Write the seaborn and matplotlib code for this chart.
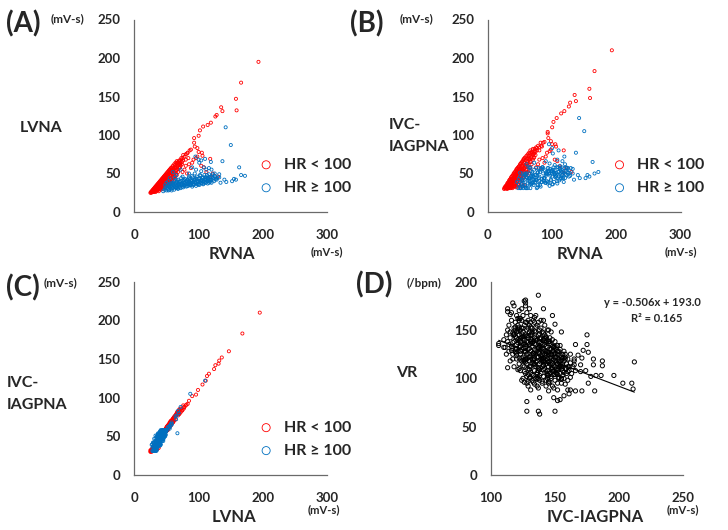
import numpy as np
import pandas as pd
import matplotlib
matplotlib.use('Agg')
from matplotlib import pyplot as plt
import seaborn as sns

sns.set_style('white')
plt.rcParams['font.family'] = ['Lato', 'DejaVu Sans']
plt.rcParams['font.weight'] = 'bold'

# ---- panels A-C : one row per beat (RVNA, LVNA, IVC-IAGPNA), split by HR
red_rvna = [25, 26, 26, 27, 27, 28, 28, 29, 29, 30, 30, 30, 31, 31, 31, 32, 32, 32, 33, 33, 33, 34, 34, 34,
            35, 35, 35, 35, 36, 36, 36, 37, 37, 37, 38, 38, 38, 39, 39, 39, 40, 40, 40, 40, 41, 41, 41,
            42, 42, 42, 42, 43, 43, 43, 44, 44, 44, 45, 45, 45, 45, 46, 46, 46, 47, 47, 47, 48, 48, 48,
            49, 49, 49, 50, 50, 50, 50, 51, 51, 52, 52, 52, 53, 53, 54, 54, 55, 55, 55, 56, 56, 57, 57,
            58, 58, 59, 60, 60, 61, 62, 62, 63, 64, 65, 66, 67, 68, 70, 69, 72, 71, 64, 66, 68, 55, 57, 50, 44,
            27.5, 28.5, 29.5, 30.5, 31.5, 32.5, 33.5, 34.5, 35.5, 36.5, 37.5, 38.5, 39.5, 40.5, 41.5, 42.5,
            43.5, 44.5, 45.5, 46.5, 47.5, 48.5, 49.5, 50.5, 51.5, 52.5, 53.5, 54.5, 55.5, 56.5, 57.5, 58.5,
            59.5, 60.5, 61.5, 63.5, 64.5, 65.5, 66.5, 67.5, 69.5, 70.5, 73, 74, 75,
            33, 36, 39, 42, 45, 48, 51, 54, 57, 60, 63, 38, 41, 44, 47, 53, 56, 59, 62, 65, 67, 70, 72, 74,
            30, 34, 37, 40, 43, 46, 49, 52, 55, 58, 61, 64, 68, 71, 76, 78, 80, 84, 82,
            193, 166, 158, 159, 135, 137, 128, 126, 119, 114, 107, 102, 100, 93, 93, 94, 98, 86, 88, 83,
            80, 76, 73, 100, 98, 96, 90, 85, 88, 80, 78, 75, 82, 108, 112, 122, 130, 118, 104, 92, 106, 118, 105]
red_lvna = [25, 26, 25, 27, 26, 28, 26, 27, 29, 28, 30, 26, 27, 31, 29, 28, 32, 30, 27, 33, 31, 29, 34, 32,
            28, 35, 33, 30, 30, 36, 34, 29, 37, 33, 31, 38, 35, 32, 39, 36, 30, 40, 37, 34, 33, 41, 38,
            31, 42, 39, 35, 36, 43, 40, 34, 44, 41, 32, 45, 38, 42, 35, 46, 43, 37, 47, 40, 33, 48, 44,
            38, 49, 45, 36, 50, 46, 41, 40, 51, 34, 52, 47, 42, 53, 45, 54, 38, 55, 50, 44, 56, 48, 57,
            41, 58, 52, 60, 46, 55, 62, 50, 58, 64, 54, 66, 60, 65, 67, 62, 63, 58, 43, 48, 52, 36, 38, 35, 33,
            25.5, 27, 26, 29, 28, 31, 29, 33, 31, 35, 32, 36, 34, 38, 35, 40,
            37, 42, 39, 44, 41, 46, 42, 48, 44, 49, 46, 51, 47, 53, 50, 55,
            49, 57, 52, 61, 57, 63, 58, 64, 66, 61, 68, 65, 70,
            26, 28, 30, 33, 35, 37, 38, 41, 43, 44, 47, 27, 29, 30, 32, 37, 40, 42, 45, 50, 55, 57, 60, 62,
            27, 30, 34, 36, 38, 40, 43, 45, 48, 51, 54, 59, 61, 64, 67, 72, 68, 70, 76,
            195, 168, 147, 132, 136, 131, 126, 124, 116, 113, 111, 106, 99, 96, 90, 85, 83, 80, 81, 77,
            75, 74, 70, 78, 72, 70, 64, 62, 57, 60, 55, 52, 50, 58, 52, 50, 46, 45, 60, 68, 73, 69, 77]
red_ivc = [30, 31, 32, 33, 31, 34, 32, 31, 35, 33, 37, 31, 32, 38, 35, 31, 39, 36, 32, 41, 37, 33, 42, 38,
           31, 43, 39, 35, 33, 45, 40, 32, 46, 39, 35, 47, 42, 36, 48, 43, 33, 50, 44, 40, 37, 51, 45,
           34, 52, 47, 41, 42, 53, 48, 38, 55, 49, 34, 56, 45, 50, 40, 57, 52, 43, 58, 48, 35, 59, 53,
           44, 60, 54, 41, 62, 55, 49, 47, 63, 36, 64, 56, 50, 65, 54, 66, 44, 68, 60, 52, 69, 57, 70,
           48, 71, 62, 73, 55, 66, 75, 60, 70, 77, 65, 80, 72, 78, 82, 75, 76, 70, 50, 57, 62, 34, 35, 33, 32,
           30.5, 32, 31, 35, 33, 37, 34, 40, 36, 42, 37, 44, 40, 46, 41, 49,
           44, 51, 46, 54, 49, 56, 50, 58, 53, 60, 55, 62, 57, 64, 60, 67,
           59, 69, 63, 73, 69, 76, 70, 77, 80, 74, 82, 78, 84,
           31, 32, 34, 37, 39, 42, 43, 47, 49, 51, 54, 31, 33, 35, 36, 42, 45, 48, 52, 58, 65, 68, 71, 74,
           30, 33, 38, 40, 43, 45, 48, 51, 54, 58, 62, 68, 71, 76, 80, 86, 80, 85, 90,
           210, 183, 160, 148, 152, 144, 142, 137, 131, 128, 122, 117, 110, 104, 102, 96, 92, 90, 91, 86,
           84, 83, 79, 88, 81, 79, 72, 70, 64, 68, 62, 58, 57, 66, 59, 57, 52, 51, 68, 77, 85, 80, 88]

blue_rvna = [45, 47, 48, 50, 50, 52, 53, 54, 55, 56, 57, 58, 59, 60, 61, 62, 62, 63, 64, 65, 66, 67, 68, 68,
             69, 70, 71, 72, 73, 74, 75, 76, 77, 78, 79, 80, 81, 82, 83, 84, 85, 86, 87, 88, 89, 90, 91, 92,
             93, 94, 95, 96, 97, 98, 99, 100, 101, 102, 103, 104, 105, 106, 107, 108, 109, 110, 111, 112,
             113, 114, 115, 116, 117, 118, 119, 120, 122, 124, 125, 127, 63, 75, 58, 66, 85, 95, 105, 115,
             70, 80, 90, 100, 110, 120, 65, 76, 88, 98, 60, 72, 85, 65, 55, 50, 48, 53,
             51, 53, 55, 57, 59, 60, 62, 64, 65, 67, 68, 70, 71, 72, 74, 75, 77, 78, 79, 81, 82, 83, 84, 86,
             87, 88, 89, 91, 92, 93, 94, 96, 97, 99, 100, 101, 103, 104, 106, 107, 108, 110, 111, 112, 114,
             116, 117, 118, 121, 123, 126, 129, 61, 66, 73, 58, 54, 69, 77, 85, 90, 102, 113, 122,
             142, 150, 137, 163, 172, 155, 158, 143, 132, 128, 110, 100, 101, 116, 108, 90, 96, 95, 132,
             140, 120, 125, 94, 104, 166, 152, 134, 119, 112, 104]
blue_lvna = [27, 29, 31, 28, 33, 30, 35, 29, 32, 36, 30, 34, 38, 31, 35, 29, 40, 33, 37, 31, 39, 34, 30, 42,
             36, 33, 39, 31, 37, 35, 41, 32, 38, 34, 43, 36, 33, 40, 37, 34, 44, 39, 35, 41, 37, 33, 45, 39,
             36, 42, 38, 34, 46, 40, 37, 43, 35, 39, 47, 41, 37, 44, 36, 40, 48, 42, 38, 45,
             40, 37, 43, 49, 41, 39, 46, 42, 44, 40, 47, 43, 45, 46, 28, 32, 40, 44, 42, 40,
             37, 40, 41, 40, 45, 38, 35, 36, 38, 36, 52, 55, 50, 48, 44, 38, 35, 40,
             31, 28, 34, 33, 31, 36, 34, 32, 38, 31, 36, 35, 32, 40, 37, 33, 35, 41, 38, 36, 34, 42, 39, 36,
             43, 35, 40, 38, 35, 42, 39, 37, 43, 39, 36, 44, 41, 38, 40, 45, 37, 39, 43, 41, 44,
             38, 45, 42, 46, 42, 45, 44, 38, 41, 44, 37, 33, 39, 42, 46, 47, 48, 48, 49,
             110, 87, 66, 58, 47, 43, 42, 39, 49, 42, 69, 68, 64, 57, 58, 58, 55, 72, 45,
             42, 55, 50, 50, 53, 48, 40, 38, 65, 55, 67]
blue_ivc = [39, 31, 36, 31, 51, 33, 37, 42, 31, 48, 42, 33, 50, 31, 50, 37, 41, 44, 44, 36, 53, 37, 38, 46,
            50, 38, 45, 42, 39, 42, 57, 31, 47, 35, 57, 40, 35, 56, 39, 39, 58, 41, 44, 40, 54, 38, 52, 50,
            37, 52, 53, 34, 56, 42, 53, 50, 36, 52, 51, 49, 51, 47, 44, 40, 58, 49, 41, 57,
            43, 44, 58, 52, 50, 39, 57, 49, 48, 52, 51, 51, 58, 48, 35, 31, 56, 50, 45, 52,
            43, 46, 47, 46, 52, 44, 40, 41, 44, 41, 62, 64, 58, 57, 50, 46, 43, 42,
            31, 40, 38, 47, 31, 45, 31, 42, 44, 47, 36, 47, 35, 55, 38, 42, 32, 52, 44, 52, 33, 55, 43, 50,
            44, 44, 38, 49, 40, 57, 39, 50, 47, 54, 36, 55, 39, 49, 46, 58, 37, 52, 47, 56, 46,
            48, 44, 53, 53, 57, 46, 57, 45, 58, 48, 49, 33, 52, 51, 58, 50, 58, 54, 58,
            122, 105, 77, 65, 52, 48, 46, 44, 56, 47, 80, 83, 76, 66, 68, 66, 63, 88, 50,
            48, 62, 57, 57, 61, 50, 44, 42, 72, 60, 54]

# ---- panel D : IVC-IAGPNA vs ventricular rate
vr_ivc = [110, 111, 112, 112, 113, 113, 114, 114, 115, 115, 116, 116, 117, 117, 118, 118, 118, 119, 119, 119,
          120, 120, 120, 120,
          121, 121, 121, 122, 122, 122, 122, 123, 123, 123, 123, 124, 124, 124, 124, 125, 125, 125, 125, 125,
          126, 126, 126, 126, 127, 127, 127, 127, 127, 128, 128, 128, 128, 128, 129, 129, 129, 129,
          130, 130, 130, 130, 130, 130,
          131, 131, 131, 131, 132, 132, 132, 132, 132, 133, 133, 133, 133, 134, 134, 134, 134, 134,
          135, 135, 135, 135, 135, 136, 136, 136, 136, 136, 137, 137, 137, 137, 138, 138, 138, 138, 138,
          139, 139, 139, 139, 140, 140, 140, 140, 140,
          141, 141, 141, 141, 141, 142, 142, 142, 142, 143, 143, 143, 143, 144, 144, 144, 144,
          145, 145, 145, 145, 146, 146, 146, 146, 147, 147, 147, 147, 148, 148, 148, 148, 149, 149, 149,
          150, 150, 150, 150, 150,
          151, 151, 151, 152, 152, 152, 153, 153, 153, 154, 154, 154, 155, 155, 155, 156, 156, 156,
          157, 157, 157, 158, 158, 159, 159, 160, 160, 160, 161, 162, 162, 163, 164, 165, 166,
          116, 118, 121, 124, 126, 128, 130, 133, 135, 137, 139, 142, 145, 147,
          126, 129, 131, 134, 137, 140, 143, 146, 149, 152, 155, 158, 132, 138, 144,
          117, 119, 121, 123, 124, 126, 127, 129, 131, 132, 134, 135, 137, 138, 140, 141, 143, 144, 146, 147,
          149, 151, 152, 154, 156, 157, 159,
          116, 118, 120, 122, 125, 127, 128, 130, 131, 133, 134, 136, 137, 139, 141, 142, 144, 145, 147, 148,
          150, 151, 153, 155, 158,
          119, 121, 122, 124, 126, 128, 129, 131, 132, 134, 136, 137, 139, 140, 142, 143, 145, 146, 148, 150,
          152, 154, 156,
          114, 117, 120, 123, 126, 129, 132, 135, 138, 141, 144, 147, 150, 153,
          118, 122, 125, 128, 131, 134, 137, 140, 143, 146, 149, 152, 155, 158, 161,
          120, 122, 123, 125, 127, 128, 130, 132, 133, 135, 136, 138, 139, 141, 143, 144, 146, 148, 150, 152,
          154,
          121, 123, 125, 126, 128, 130, 131, 133, 135, 137, 138, 140, 142, 144, 145, 147, 149, 151, 153, 155,
          118, 120, 124, 127, 129, 132, 134, 136, 138, 140, 143, 145, 147, 150, 152, 154, 157,
          122, 124, 126, 129, 131, 133, 135, 137, 139, 141, 143, 146, 148, 150, 153, 156,
          115, 117, 119, 121, 123, 125, 127, 129, 131, 134, 136, 139, 142,
          137, 127, 127, 117, 113, 113, 115, 141, 148, 150, 155, 122, 106, 106, 110, 113, 128, 128, 137, 138,
          150, 138, 145, 149, 152, 154, 157, 161, 160, 162, 166, 171, 176, 181, 175, 175, 166, 171, 180, 180,
          187, 187, 186, 196, 182, 178, 203, 210, 211, 212, 176, 172, 168, 165, 170, 165, 162, 170, 174, 160]
vr_rate = [140, 132, 145, 125, 150, 138, 128, 155, 142, 118, 133, 160, 147, 125, 138, 152, 112, 130, 158, 143,
           120, 135, 165, 148,
           128, 140, 155, 115, 132, 145, 170, 125, 138, 150, 108, 160, 130, 143, 118, 135, 148, 122, 100, 165,
           128, 140, 155, 112, 133, 145, 120, 105, 175, 138, 125, 150, 95, 115, 130, 142, 160, 110,
           122, 135, 148, 100, 118, 155,
           128, 140, 112, 165, 133, 120, 145, 104, 152, 125, 138, 115, 96, 130, 142, 108, 158, 120,
           135, 125, 148, 112, 100, 128, 140, 118, 92, 155, 132, 122, 145, 108, 126, 138, 115, 150, 98,
           130, 120, 142, 105, 125, 135, 112, 148, 95,
           130, 118, 140, 102, 160, 122, 135, 110, 145, 128, 115, 138, 98, 120, 132, 108, 150,
           125, 112, 138, 95, 118, 130, 105, 142, 122, 110, 135, 100, 115, 128, 92, 140, 120, 108, 132,
           112, 125, 98, 138, 118,
           122, 105, 130, 115, 95, 128, 110, 120, 100, 118, 130, 105, 112, 122, 95, 108, 125, 115,
           118, 100, 128, 110, 122, 105, 115, 112, 120, 98, 108, 116, 125, 105, 112, 118, 108,
           168, 175, 162, 172, 180, 168, 172, 160, 165, 158, 152, 155, 150, 148,
           96, 92, 88, 94, 90, 97, 92, 96, 90, 88, 100, 94, 98, 103, 100,
           137, 127, 149, 133, 121, 143, 117, 137, 123, 147, 115, 139, 127, 109, 131, 121, 107, 127, 115, 125,
           104, 117, 125, 113, 103, 121, 110,
           129, 145, 124, 153, 141, 128, 158, 112, 138, 126, 149, 106, 131, 141, 114, 125, 140, 117, 102, 133,
           122, 106, 128, 119, 125,
           150, 137, 160, 146, 118, 133, 104, 145, 116, 136, 122, 110, 136, 128, 117, 142, 103, 124, 111, 126,
           104, 113, 121,
           135, 120, 142, 128, 135, 122, 140, 117, 133, 109, 117, 125, 104, 112,
           145, 110, 152, 102, 158, 120, 100, 118, 126, 138, 113, 134, 110, 120, 112,
           131, 121, 141, 113, 127, 144, 109, 136, 119, 129, 101, 141, 123, 113, 133, 103, 121, 109, 131, 115,
           124,
           151, 133, 143, 107, 120, 131, 153, 103, 141, 111, 134, 121, 139, 105, 127, 114, 128, 109, 118, 99,
           146, 126, 152, 135, 97, 148, 114, 104, 146, 119, 143, 97, 130, 122, 108, 134, 106,
           139, 98, 119, 144, 106, 126, 153, 132, 117, 147, 124, 136, 107, 133, 101, 113,
           148, 131, 153, 109, 162, 119, 158, 152, 101, 163, 99, 160, 141,
           186, 181, 178, 178, 172, 169, 166, 172, 165, 156, 148, 162, 134, 136, 132, 111, 76, 66, 66, 63,
           66, 80, 87, 80, 77, 78, 82, 84, 88, 88, 87, 87, 95, 87, 135, 145, 135, 121, 120, 114,
           118, 113, 103, 103, 103, 102, 95, 95, 89, 117, 127, 129, 124, 120, 114, 114, 101, 107, 108, 107]
fit_slope = -0.506
fit_icept = 193.0

red = pd.DataFrame({'RVNA': red_rvna, 'LVNA': red_lvna, 'IVC': red_ivc})
blue = pd.DataFrame({'RVNA': blue_rvna, 'LVNA': blue_lvna, 'IVC': blue_ivc})
vr = pd.DataFrame({'IVC': vr_ivc, 'VR': vr_rate})

RED = '#FF0000'
BLUE = '#0070C0'
GREY = '#6a6a6a'
W, H = 728, 530

fig = plt.figure(figsize=(7.28, 5.30), dpi=100)


def add_ax(l, t, r, b):
    # box given in pixels of the 728x530 picture
    return fig.add_axes([l / W, 1 - b / H, (r - l) / W, (b - t) / H])


def txt(x, y, s, size, ha='left'):
    fig.text(x / W, 1 - y / H, s, fontsize=size, fontweight='bold', ha=ha, va='center')


def style(ax, xlim, ylim, xt, yt):
    ax.set_xlim(*xlim)
    ax.set_ylim(*ylim)
    ax.set_xticks(xt)
    ax.set_yticks(yt)
    ax.set_xlabel('')
    ax.set_ylabel('')
    for s in ['top', 'right']:
        ax.spines[s].set_visible(False)
    for s in ['left', 'bottom']:
        ax.spines[s].set_color(GREY)
        ax.spines[s].set_linewidth(0.9)
    ax.tick_params(axis='y', direction='out', length=3, width=0.8, color=GREY, pad=7, labelsize=9.5)
    ax.tick_params(axis='x', direction='in', length=3, width=0.8, color=GREY, pad=12, labelsize=9.5)
    for lab in ax.get_xticklabels() + ax.get_yticklabels():
        lab.set_fontweight('bold')


def hr_panel(ax, xcol, ycol):
    sns.scatterplot(data=red, x=xcol, y=ycol, ax=ax, marker='o', s=5, facecolor='none',
                    edgecolor=RED, linewidth=0.6, label='HR < 100')
    sns.scatterplot(data=blue, x=xcol, y=ycol, ax=ax, marker='o', s=5, facecolor='none',
                    edgecolor=BLUE, linewidth=0.6, label='HR \u2265 100')
    style(ax, (0, 300), (0, 250), [0, 100, 200, 300], [0, 50, 100, 150, 200, 250])
    ax.legend(loc='center left', bbox_to_anchor=(0.65, 0.185), frameon=False,
              markerscale=2.6, handlelength=0.8, handletextpad=0.7, labelspacing=0.55,
              borderpad=0, borderaxespad=0, prop={'size': 11.5, 'weight': 'bold'})


axA = add_ax(134.3, 19.5, 327.3, 212)
hr_panel(axA, 'RVNA', 'LVNA')
axB = add_ax(488, 19.5, 680.5, 212)
hr_panel(axB, 'RVNA', 'IVC')
axC = add_ax(134.3, 281.7, 327.3, 475)
hr_panel(axC, 'LVNA', 'IVC')

axD = add_ax(491, 281.7, 683, 475)
sns.scatterplot(data=vr, x='IVC', y='VR', ax=axD, marker='o', s=9, facecolor='none',
                edgecolor='black', linewidth=0.7)
xs = np.array([min(vr_ivc), max(vr_ivc)])
sns.lineplot(x=xs, y=fit_icept + fit_slope * xs, ax=axD, color='black', linewidth=0.8)
style(axD, (100, 250), (0, 200), [100, 150, 200, 250], [0, 50, 100, 150, 200])

# panel letters, units and axis titles
txt(6, 24, '(A)', 20)
txt(51, 19, '(mV-s)', 8.5)
txt(20, 128, 'LVNA', 11.5)
txt(232, 254, 'RVNA', 12, 'center')
txt(327, 252, '(mV-s)', 8, 'center')

txt(350, 24, '(B)', 20)
txt(400, 19, '(mV-s)', 8.5)
txt(389, 125, 'IVC-', 11.5)
txt(389, 147, 'IAGPNA', 11.5)
txt(580, 254, 'RVNA', 12, 'center')
txt(681, 252, '(mV-s)', 8, 'center')

txt(6, 288, '(C)', 20)
txt(44, 283, '(mV-s)', 8.5)
txt(7, 383, 'IVC-', 11.5)
txt(7, 405, 'IAGPNA', 11.5)
txt(234, 517, 'LVNA', 12, 'center')
txt(324, 510, '(mV-s)', 8, 'center')

txt(356, 285, '(D)', 20)
txt(407, 283, '(/bpm)', 8.5)
txt(396, 373, 'VR', 11.5)
txt(595, 517, 'IVC-IAGPNA', 12, 'center')
txt(683, 510, '(mV-s)', 8, 'center')
txt(652, 303, 'y = -0.506x + 193.0', 8, 'center')
txt(657, 318, 'R\u00b2 = 0.165', 8, 'center')

fig.savefig('out.png', dpi=100)
